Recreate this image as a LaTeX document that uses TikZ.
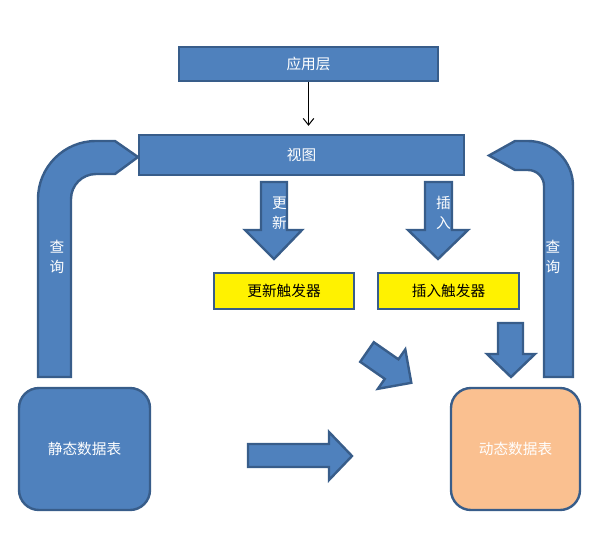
\documentclass[tikz,border=0pt]{standalone}
\usepackage{fontspec}
\newfontfamily\cjk{Noto Sans CJK SC}
\usetikzlibrary{arrows.meta}

\definecolor{blkfill}{HTML}{4F81BD}
\definecolor{blkline}{HTML}{385D8A}
\definecolor{peach}{HTML}{FAC090}

\tikzset{every picture/.style={line width=0.75pt}}
\tikzset{
  blkshape/.style={draw=blkline, fill=blkfill, line width=1.8pt},
  blkbox/.style={blkshape, font=\cjk\fontsize{11pt}{15pt}\selectfont, text=white, inner sep=0pt},
  trigbox/.style={blkbox, fill=yellow, text=black},
  tablebox/.style={blkbox, rounded corners=15pt},
  lbl/.style={font=\cjk\fontsize{11pt}{15pt}\selectfont, text=white, align=center, inner sep=0.75pt}
}

\begin{document}
\begin{tikzpicture}[x=0.75pt,y=0.75pt,yscale=-1,xscale=1]
\useasboundingbox (0,0) rectangle (598,540);

%Shape: Bent Arrow left
\draw [blkshape] (38,377) -- (38,199) arc[start angle=180, end angle=270, radius=58] -- (115,141) -- (138,157) -- (115,174) -- (96,174) arc[start angle=270, end angle=180, radius=25] -- (71,377) -- cycle ;
%Shape: Bent Arrow right
\draw [blkshape] (573,377) -- (573,186) arc[start angle=0, end angle=-90, radius=45] -- (515,141) -- (489,155.5) -- (515,170) -- (528,170) arc[start angle=-90, end angle=0, radius=16] -- (544,377) -- cycle ;
%Shape: Down Arrow
\draw [blkshape] (261,182) -- (287,182) -- (287,230) -- (302,230) -- (274,259) -- (245,230) -- (261,230) -- cycle ;
%Shape: Down Arrow
\draw [blkshape] (425,182) -- (452,182) -- (452,230) -- (468,230) -- (438,259) -- (408,230) -- (425,230) -- cycle ;
%Shape: Down Arrow
\draw [blkshape] (498,323) -- (523,323) -- (523,354) -- (535,354) -- (511,377) -- (487,354) -- (498,354) -- cycle ;
%Shape: Diagonal Arrow
\draw [blkshape] (373.8,342.2) -- (398.4,359.3) -- (405.3,349.4) -- (411.3,382.8) -- (377.9,388.8) -- (384.8,378.9) -- (360.2,361.8) -- cycle ;
%Shape: Right Arrow
\draw [blkshape] (248,444) -- (329,444) -- (329,432) -- (352,456) -- (329,480) -- (329,467) -- (248,467) -- cycle ;

% Text Node
\node [blkbox, minimum width=194.25pt, minimum height=25.5pt] (app) at (308.5,64) {应用层};
\node [blkbox, minimum width=243.75pt, minimum height=30pt] (view) at (301.5,155) {视图};
\node [trigbox, minimum width=105pt, minimum height=27pt] (updtrig) at (284,291) {更新触发器};
\node [trigbox, minimum width=105.75pt, minimum height=27pt] (instrig) at (448.5,291) {插入触发器};
\node [tablebox, minimum width=98.25pt, minimum height=91.5pt] (static) at (84.5,449) {静态数据表};
\node [tablebox, fill=peach, minimum width=96.75pt, minimum height=91.5pt] (dynamic) at (515.5,449) {动态数据表};

\draw [-{Straight Barb[length=5pt,width=8pt]}, shorten >=6pt] (app.south) -- (app.south |- view.north) ;

% Text Node
\node [lbl] (qryleft) at (57,257) {查\\询};
\node [lbl] (qryright) at (553,257) {查\\询};
\node [lbl] (updlbl) at (279.5,213) {更\\新};
\node [lbl] (inslbl) at (443.5,213) {插\\入};

\end{tikzpicture}
\end{document}
